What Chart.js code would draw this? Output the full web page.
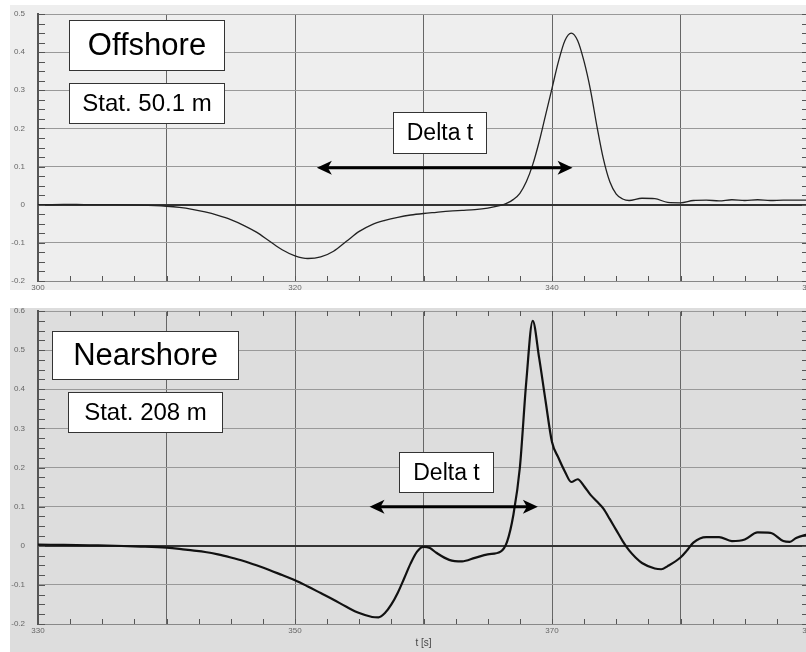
<!DOCTYPE html>
<html>
<head>
<meta charset="utf-8">
<script src="https://cdn.jsdelivr.net/npm/chart.js@4.4.0/dist/chart.umd.min.js"></script>
<style>
html, body { margin: 0; padding: 0; background: #fff; overflow: hidden; width: 806px; height: 652px; }
.bg { position: absolute; left: 10px; width: 810px; }
#bgTop { top: 5px; height: 285px; background: #eeeeee; }
#bgBottom { top: 308px; height: 344px; background: #dddddd; }
canvas { position: absolute; left: 0; }
#chartTop { top: 0; }
#chartBottom { top: 300px; }
</style>
</head>
<body>
<div class="bg" id="bgTop"></div>
<div class="bg" id="bgBottom"></div>
<canvas id="chartTop" width="820" height="290"></canvas>
<canvas id="chartBottom" width="820" height="352"></canvas>
<script>
// Offshore gauge, station 50.1 m
var tempoTopo = [300, 302, 304, 306, 308, 310, 311, 312, 313, 314, 315, 316, 317, 318, 319, 320,
    321, 322, 323, 324, 325, 326, 327, 328, 329, 330, 331, 332, 333, 334, 335, 336, 336.5, 337,
    337.5, 338, 338.5, 339, 339.5, 340, 340.5, 341, 341.5, 342, 342.5, 343, 343.5, 344, 344.5,
    345, 345.5, 346, 347, 348, 349, 350, 351, 352, 353, 354, 355, 356, 357, 358, 359, 360];
var nivelTopo = [0.0, 0.001, 0.0, 0.0, -0.001, -0.004, -0.007, -0.012, -0.019, -0.028, -0.039,
    -0.054, -0.072, -0.095, -0.118, -0.134, -0.141, -0.137, -0.122, -0.096, -0.07, -0.052, -0.041,
    -0.033, -0.027, -0.023, -0.02, -0.017, -0.015, -0.013, -0.009, -0.002, 0.004, 0.014, 0.03,
    0.06, 0.105, 0.165, 0.235, 0.305, 0.375, 0.43, 0.45, 0.43, 0.375, 0.3, 0.205, 0.12, 0.06,
    0.028, 0.015, 0.011, 0.017, 0.016, 0.006, 0.005, 0.011, 0.012, 0.01, 0.013, 0.011, 0.013,
    0.011, 0.012, 0.012, 0.012];

// Nearshore gauge, station 208 m
var tempoBase = [330, 332, 334, 336, 338, 340, 341, 342, 343, 344, 345, 346, 347, 348, 349, 350,
    351, 352, 353, 354, 355, 356, 356.5, 357, 357.5, 358, 358.5, 359, 359.5, 360, 360.5, 361, 362,
    363, 364, 365, 366, 366.5, 367, 367.5, 368, 368.5, 369, 369.5, 370, 370.5, 371, 371.5, 372,
    372.5, 373, 373.5, 374, 374.5, 375, 375.5, 376, 376.5, 377, 378, 378.5, 379, 380, 380.5, 381,
    382, 383, 384, 385, 386, 387, 388, 388.5, 389, 390];
var nivelBase = [0.003, 0.002, 0.001, 0.0, -0.002, -0.005, -0.008, -0.012, -0.016, -0.022, -0.03,
    -0.039, -0.05, -0.062, -0.075, -0.088, -0.104, -0.121, -0.138, -0.156, -0.172, -0.182, -0.183,
    -0.172, -0.15, -0.12, -0.083, -0.045, -0.015, -0.003, -0.006, -0.018, -0.036, -0.04, -0.031,
    -0.022, -0.015, 0.01, 0.08, 0.2, 0.42, 0.575, 0.48, 0.37, 0.265, 0.225, 0.19, 0.163, 0.17,
    0.152, 0.13, 0.113, 0.095, 0.068, 0.04, 0.012, -0.012, -0.03, -0.044, -0.058, -0.06, -0.052,
    -0.03, -0.012, 0.008, 0.022, 0.022, 0.012, 0.016, 0.034, 0.033, 0.012, 0.01, 0.02, 0.03];

var rotulosXTopo = [300, 320, 340, 360];
var rotulosXBase = [330, 350, 370, 390];

var fonte = "'Liberation Sans', Arial, sans-serif";

// boxes and the Delta t arrow, placed in axis units
var notasTopo = {
    caixas: [
        { x0: 302.4, x1: 314.5, y0: 0.483, y1: 0.352, texto: 'Offshore', tamanho: 31 },
        { x0: 302.4, x1: 314.5, y0: 0.320, y1: 0.215, texto: 'Stat. 50.1 m', tamanho: 24 },
        { x0: 327.6, x1: 334.9, y0: 0.244, y1: 0.136, texto: 'Delta t', tamanho: 23 }
    ],
    seta: { x0: 321.7, x1: 341.6, y: 0.097 }
};
var notasBase = {
    caixas: [
        { x0: 331.1, x1: 345.6, y0: 0.550, y1: 0.425, texto: 'Nearshore', tamanho: 31 },
        { x0: 332.3, x1: 344.3, y0: 0.394, y1: 0.292, texto: 'Stat. 208 m', tamanho: 24 },
        { x0: 358.1, x1: 365.4, y0: 0.240, y1: 0.138, texto: 'Delta t', tamanho: 23 }
    ],
    seta: { x0: 355.8, x1: 368.9, y: 0.100 }
};

const tracinhos = {
    id: 'tracinhos',
    beforeDatasetsDraw(chart, args, opts) {
        const ctx = chart.ctx, a = chart.chartArea;
        const sx = chart.scales.x, sy = chart.scales.y;
        ctx.save();
        ctx.strokeStyle = '#555';
        ctx.lineWidth = 1;
        ctx.beginPath();
        for (let t = sx.min; t <= sx.max + 0.001; t += 2.5) {
            const px = Math.round(sx.getPixelForValue(t)) + 0.5;
            ctx.moveTo(px, a.bottom); ctx.lineTo(px, a.bottom - 5);
            if (opts.topo) { ctx.moveTo(px, a.top); ctx.lineTo(px, a.top + 5); }
        }
        for (let v = sy.min; v <= sy.max + 0.0001; v += 0.025) {
            const py = Math.round(sy.getPixelForValue(v)) + 0.5;
            ctx.moveTo(a.left, py); ctx.lineTo(a.left + 7, py);
            ctx.moveTo(a.right, py); ctx.lineTo(a.right - 7, py);
        }
        ctx.stroke();
        ctx.restore();
    }
};

const anotacoes = {
    id: 'anotacoes',
    afterDatasetsDraw(chart, args, opts) {
        const ctx = chart.ctx;
        const sx = chart.scales.x, sy = chart.scales.y;
        ctx.save();
        opts.caixas.forEach(function (c) {
            const x0 = Math.round(sx.getPixelForValue(c.x0)) + 0.5;
            const x1 = Math.round(sx.getPixelForValue(c.x1)) + 0.5;
            const y0 = Math.round(sy.getPixelForValue(c.y0)) + 0.5;
            const y1 = Math.round(sy.getPixelForValue(c.y1)) + 0.5;
            ctx.fillStyle = '#fff';
            ctx.fillRect(x0, y0, x1 - x0, y1 - y0);
            ctx.strokeStyle = '#333';
            ctx.lineWidth = 1;
            ctx.strokeRect(x0, y0, x1 - x0, y1 - y0);
            ctx.fillStyle = '#000';
            ctx.font = c.tamanho + 'px ' + fonte;
            ctx.textAlign = 'center';
            ctx.textBaseline = 'middle';
            ctx.fillText(c.texto, (x0 + x1) / 2, (y0 + y1) / 2 + 1);
        });
        const s = opts.seta;
        const xa = sx.getPixelForValue(s.x0), xb = sx.getPixelForValue(s.x1);
        const y = sy.getPixelForValue(s.y);
        ctx.strokeStyle = '#000';
        ctx.lineWidth = 3;
        ctx.beginPath();
        ctx.moveTo(xa + 8, y); ctx.lineTo(xb - 8, y);
        ctx.stroke();
        ctx.fillStyle = '#000';
        [[xa, 1], [xb, -1]].forEach(function (p) {
            const x = p[0], d = p[1];
            ctx.beginPath();
            ctx.moveTo(x, y);
            ctx.lineTo(x + d * 15, y - 7);
            ctx.lineTo(x + d * 11, y);
            ctx.lineTo(x + d * 15, y + 7);
            ctx.closePath();
            ctx.fill();
        });
        ctx.restore();
    }
};

function montarGrafico(id, tempos, niveis, xMin, xMax, yMin, yMax, rotulosX, notas, cfg) {
    const pontos = tempos.map(function (t, i) { return { x: t, y: niveis[i] }; });
    return new Chart(document.getElementById(id), {
        type: 'line',
        data: {
            datasets: [{
                data: pontos,
                borderColor: cfg.cor,
                borderWidth: cfg.espessura,
                pointRadius: 0,
                cubicInterpolationMode: 'monotone',
                fill: false
            }]
        },
        options: {
            responsive: false,
            animation: false,
            events: [],
            layout: { padding: { top: cfg.margemTopo, right: 11, bottom: 0, left: 0 } },
            plugins: {
                legend: { display: false },
                tooltip: { enabled: false },
                tracinhos: { topo: cfg.tracosTopo },
                anotacoes: notas
            },
            scales: {
                x: {
                    type: 'linear',
                    min: xMin,
                    max: xMax,
                    afterFit: function (scale) { scale.height = cfg.alturaX; },
                    grid: { color: '#666', lineWidth: 1, drawTicks: false },
                    border: { color: '#888', width: 1 },
                    ticks: {
                        stepSize: 10,
                        autoSkip: false,
                        maxRotation: 0,
                        padding: 2,
                        color: '#666',
                        font: { family: fonte, size: 8 },
                        callback: function (v) { return rotulosX.indexOf(v) >= 0 ? String(v) : ''; }
                    },
                    title: {
                        display: cfg.titulo,
                        text: 't [s]',
                        color: '#444',
                        font: { family: fonte, size: 10 },
                        padding: { top: 0, bottom: 3 }
                    }
                },
                y: {
                    min: yMin,
                    max: yMax,
                    afterFit: function (scale) { scale.width = 38; },
                    grid: {
                        drawTicks: true,
                        tickLength: 13,
                        tickColor: 'rgba(0,0,0,0)',
                        color: function (c) { return Math.abs(c.tick.value) < 1e-9 ? '#333' : '#999'; },
                        lineWidth: function (c) { return Math.abs(c.tick.value) < 1e-9 ? 2 : 1; }
                    },
                    border: { color: '#555', width: 2 },
                    ticks: {
                        stepSize: 0.1,
                        padding: 0,
                        color: '#666',
                        font: { family: fonte, size: 8 },
                        callback: function (v) {
                            const r = Math.round(v * 10) / 10;
                            return r === 0 ? '0' : r.toFixed(1);
                        }
                    }
                }
            }
        },
        plugins: [tracinhos, anotacoes]
    });
}

montarGrafico('chartTop', tempoTopo, nivelTopo, 300, 360, -0.2, 0.5, rotulosXTopo, notasTopo,
    { cor: '#222', espessura: 1.3, margemTopo: 14, alturaX: 9, titulo: false, tracosTopo: false });
montarGrafico('chartBottom', tempoBase, nivelBase, 330, 390, -0.2, 0.6, rotulosXBase, notasBase,
    { cor: '#111', espessura: 2.2, margemTopo: 11, alturaX: 28, titulo: true, tracosTopo: true });
</script>
</body>
</html>
